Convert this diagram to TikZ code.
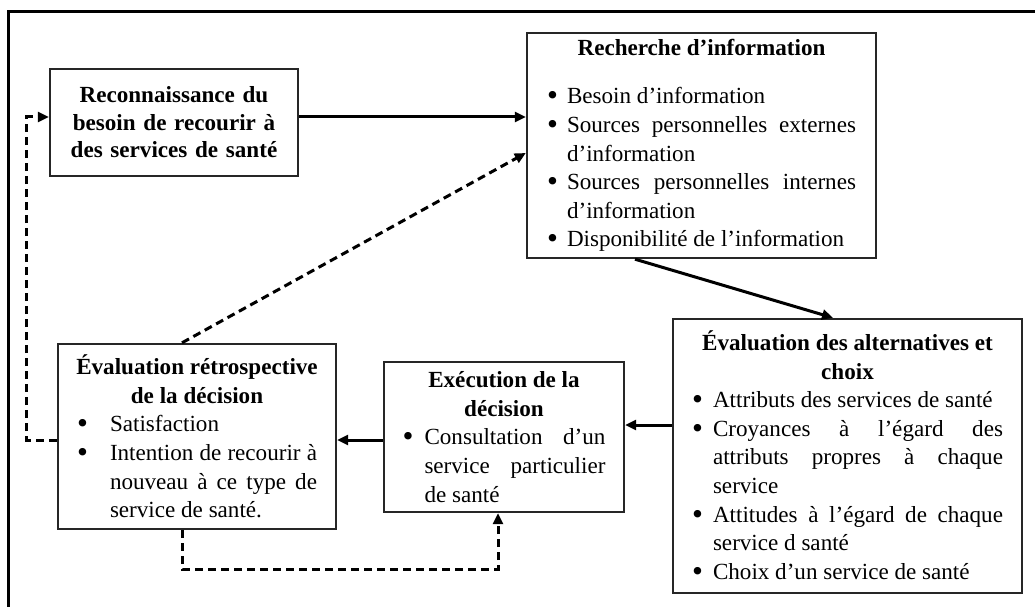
\documentclass[tikz,border=0pt]{standalone}
\usepackage{fontspec}
\setmainfont{Liberation Serif}
\usetikzlibrary{arrows.meta}
\newcommand\bitem[2]{\par\noindent\hangindent=#1\hangafter=1\makebox[#1][l]{\raisebox{-2pt}{\scalebox{1.35}{\textbullet}}}#2\par}
\begin{document}
\begin{tikzpicture}[x=1pt,y=-1pt,
  box/.style={draw=black!85, line width=2.4pt, inner ysep=2pt, align=justify,
    font=\fontsize{23.1}{28.6}\selectfont},
  flow/.style={line width=3pt, -{Triangle[length=11pt,width=10pt]}},
  back/.style={flow, dash pattern=on 8pt off 5pt}]
\useasboundingbox (0,0) rectangle (1035,607);
\draw[line width=3pt] (8,607) -- (8,12) -- (1035,12);

\node[box, text width=228pt, inner xsep=10pt, minimum height=107pt, align=center,
  font=\fontsize{23.1}{27.5}\selectfont\bfseries] (reco) at (174,122.5)
  {Reconnaissance du\\ besoin de recourir à\\ des services de santé};

\node[box, text width=309pt, inner xsep=20pt, minimum height=225pt] (rech) at (701.5,145.5)
  {\vspace*{4pt}{\centering\bfseries Recherche d'information\par}\vspace{16pt}
   \bitem{20pt}{Besoin d'information}
   \bitem{20pt}{Sources personnelles externes\linebreak d'information}
   \bitem{20pt}{Sources personnelles internes\linebreak d'information}
   \bitem{20pt}{Disponibilité de l'information}};

\node[box, text width=311pt, inner xsep=19pt, minimum height=274pt] (alt) at (847.5,456)
  {{\centering\bfseries Évaluation des alternatives et\\ choix\par}
   \bitem{21pt}{Attributs des services de santé}
   \bitem{21pt}{Croyances à l'égard des\linebreak attributs propres à chaque\linebreak service}
   \bitem{21pt}{Attitudes à l'égard de chaque\linebreak service d santé}
   \bitem{21pt}{Choix d'un service de santé}\vspace*{5pt}};

\node[box, text width=203pt, inner xsep=18.5pt, minimum height=150pt] (exec) at (504,437)
  {{\centering\bfseries Exécution de la\\ décision\par}
   \bitem{22pt}{Consultation d'un\linebreak service particulier\linebreak de santé}};

\node[box, text width=240pt, inner xsep=19pt, minimum height=185pt] (retro) at (197,436.5)
  {{\bfseries\makebox[\linewidth]{Évaluation rétrospective}\par
    \centering de la décision\par}
   \bitem{33pt}{Satisfaction}
   \bitem{33pt}{Intention de recourir à\linebreak nouveau à ce type de\linebreak service de santé.}};

\draw[flow] ([yshift=5.5pt]reco.east) -- ([yshift=5.5pt]reco.east -| rech.west);
\draw[flow] ([xshift=-66.5pt]rech.south) -- ([xshift=-14.5pt]alt.north);
\draw[flow] ([yshift=31pt]alt.west) -- ([yshift=31pt]alt.west -| exec.east);
\draw[flow] ([yshift=-3pt]exec.west) -- ([yshift=-3pt]exec.west -| retro.east);
\draw[back] ([xshift=-15pt]retro.north) -- ([yshift=-7.5pt]rech.west);
\draw[back] ([xshift=-15pt]retro.south) -- ++(0,39) -| ([xshift=-6pt]exec.south);
\draw[back] ([yshift=-3.5pt]retro.west) -- ++(-30,0) |- ([yshift=5.5pt]reco.west);
\end{tikzpicture}
\end{document}
